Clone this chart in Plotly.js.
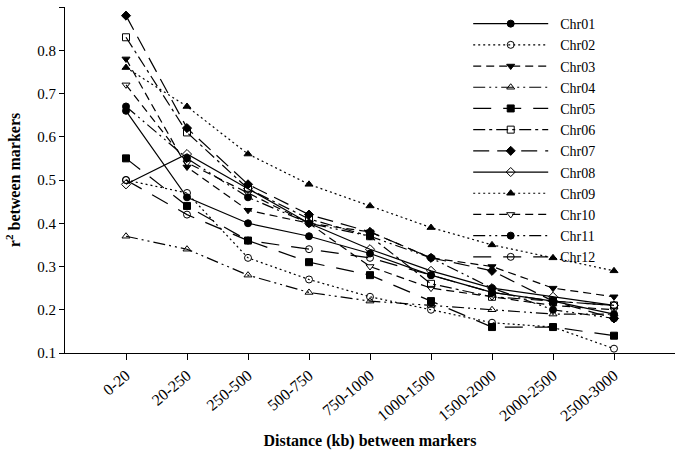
<!DOCTYPE html>
<html>
<head>
<meta charset="utf-8">
<script src="https://cdn.plot.ly/plotly-3.0.1.min.js"></script>
<style>html,body{margin:0;padding:0;background:#fff}#chart{width:675px;height:450px}</style>
</head>
<body>
<div id="chart"></div>
<script>
var categories = ["0-20","20-250","250-500","500-750","750-1000","1000-1500","1500-2000","2000-2500","2500-3000"];
var chr01 = [0.66, 0.46, 0.40, 0.37, 0.33, 0.28, 0.24, 0.22, 0.19];
var chr02 = [0.50, 0.47, 0.32, 0.27, 0.23, 0.20, 0.17, 0.16, 0.11];
var chr03 = [0.78, 0.53, 0.43, 0.40, 0.38, 0.32, 0.30, 0.25, 0.23];
var chr04 = [0.37, 0.34, 0.28, 0.24, 0.22, 0.21, 0.20, 0.19, 0.19];
var chr05 = [0.55, 0.44, 0.36, 0.31, 0.28, 0.22, 0.16, 0.16, 0.14];
var chr06 = [0.83, 0.61, 0.48, 0.41, 0.37, 0.26, 0.23, 0.22, 0.21];
var chr07 = [0.88, 0.62, 0.49, 0.42, 0.38, 0.32, 0.29, 0.22, 0.18];
var chr08 = [0.49, 0.56, 0.48, 0.40, 0.34, 0.29, 0.25, 0.23, 0.21];
var chr09 = [0.76, 0.67, 0.56, 0.49, 0.44, 0.39, 0.35, 0.32, 0.29];
var chr10 = [0.72, 0.54, 0.47, 0.40, 0.30, 0.25, 0.23, 0.21, 0.20];
var chr11 = [0.67, 0.55, 0.46, 0.40, 0.37, 0.32, 0.25, 0.20, 0.18];
var chr12 = [0.50, 0.42, 0.36, 0.34, 0.32, 0.28, 0.24, 0.22, 0.21];
var names = ["Chr01","Chr02","Chr03","Chr04","Chr05","Chr06","Chr07","Chr08","Chr09","Chr10","Chr11","Chr12"];
var series = [chr01, chr02, chr03, chr04, chr05, chr06, chr07, chr08, chr09, chr10, chr11, chr12];

var dashes = ["solid","2px,3px","8px,5px","12px,4px,2px,4px,2px,4px","18px,12px","12px,4px,3px,4px",
              "16px,8px","solid","2px,3px","8px,5px","12px,4px,2px,4px,2px,4px","18px,12px"];
var symbols = ["circle","circle-open","triangle-down","triangle-up-open","square","square-open",
               "diamond","diamond-open","triangle-up","triangle-down-open","circle","circle-open"];

var traces = series.map(function(s, i){
  return {
    x: categories, y: s, name: "\u00a0\u00a0" + names[i], type: "scatter", mode: "lines+markers",
    line: {color: "#000", width: 1.2, dash: dashes[i]},
    marker: {symbol: symbols[i], size: 7, color: "#000", line: {color: "#000", width: 1}}
  };
});

var font = "Liberation Serif, Times New Roman, serif";
var layout = {
  width: 675, height: 450,
  margin: {l: 65, r: 0, t: 7, b: 97},
  paper_bgcolor: "#fff", plot_bgcolor: "#fff",
  font: {family: font, size: 15, color: "#000"},
  showlegend: true,
  legend: {x: 0.661, y: 0.997, xanchor: "left", yanchor: "top", bgcolor: "rgba(0,0,0,0)",
           font: {family: font, size: 14, color: "#000"}, itemwidth: 75, tracegroupgap: 0},
  xaxis: {
    type: "category", range: [-1, 9], showgrid: false, zeroline: false,
    showline: true, linecolor: "#000", linewidth: 1,
    ticks: "outside", ticklen: 6, tickcolor: "#000", tickangle: -40,
    tickfont: {family: font, size: 16, color: "#000"},
    title: {text: "Distance (kb) between markers", font: {family: font, size: 16, color: "#000", weight: "bold"}, standoff: 14}
  },
  yaxis: {
    range: [0.1, 0.9], dtick: 0.1, tick0: 0.1, tickformat: ".1f", showgrid: false, zeroline: false,
    showline: true, linecolor: "#000", linewidth: 1,
    ticks: "outside", ticklen: 5, tickcolor: "#000",
    tickfont: {family: font, size: 15, color: "#000"},
    title: {text: "r<sup>2</sup> between markers", font: {family: font, size: 16, color: "#000", weight: "bold"}, standoff: 12}
  }
};
Plotly.newPlot("chart", traces, layout, {displayModeBar: false, staticPlot: true});
</script>
</body>
</html>
